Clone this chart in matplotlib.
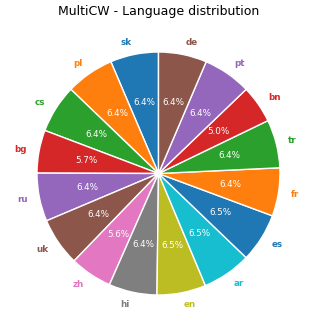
import matplotlib
matplotlib.use("Agg")
import matplotlib.pyplot as plt

# counter-clockwise from the top, like matplotlib draws it
languages = ["sk", "pl", "cs", "bg", "ru", "uk", "zh", "hi",
             "en", "ar", "es", "fr", "tr", "bn", "pt", "de"]
shares = [6.4, 6.4, 6.4, 5.7, 6.4, 6.4, 5.6, 6.4,
          6.5, 6.5, 6.5, 6.4, 6.4, 5.0, 6.4, 6.4]

colors = plt.rcParams["axes.prop_cycle"].by_key()["color"]
colors = [colors[i % len(colors)] for i in range(len(languages))]

W, H = 317, 332
fig = plt.figure(figsize=(W / 100, H / 100), dpi=100)
cx, cy, r = 158.5, 158.5, 121.5
half = r * 1.25
ax = fig.add_axes([(cx - half) / W, (cy - half) / H, 2 * half / W, 2 * half / H])

wedges, texts, autotexts = ax.pie(
    shares, labels=languages, colors=colors, startangle=90,
    autopct="%1.1f%%", pctdistance=0.6, labeldistance=1.1,
    wedgeprops={"edgecolor": "white", "linewidth": 1},
    textprops={"fontsize": 6.3},
)
for t, c in zip(texts, colors):
    t.set_color(c)
    t.set_fontweight("bold")
for t in autotexts:
    t.set_color("white")

fig.text(cx / W, 1 - 12 / H, "MultiCW - Language distribution",
         ha="center", va="center", fontsize=9)

fig.savefig("out.png", dpi=100)
